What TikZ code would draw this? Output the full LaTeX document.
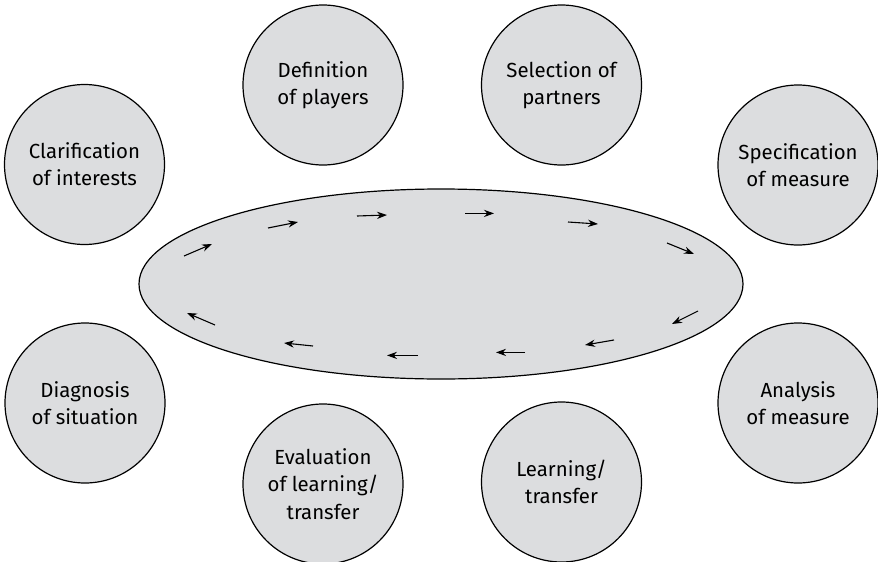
\documentclass[tikz,border=0pt]{standalone}
\usepackage{fontspec}
\setmainfont{Fira Sans}
\usetikzlibrary{arrows.meta,shapes.geometric}
\definecolor{phasegray}{RGB}{220,221,223}
\tikzset{
	phase/.style={circle, draw, fill=phasegray, line width=0.6pt, minimum size=80pt, inner sep=0pt, align=center, font=\fontsize{10.2}{13.6}\selectfont},
	flow/.style={-{Stealth[length=5pt,width=3.6pt]}, line width=0.55pt}
}
\begin{document}
\begin{tikzpicture}[x=0.5pt, y=-0.5pt]
	\useasboundingbox (0,0) rectangle (878,562);
	\node[ellipse, draw, fill=phasegray, line width=0.6pt, minimum width=302pt, minimum height=95pt, inner sep=0pt] (cycle) at (441,284) {};
	\node[phase] (clarify) at (84.5,164.5) {Clarification\\of interests};
	\node[phase] (players) at (323,85) {Definition\\of players};
	\node[phase] (partners) at (561.5,85) {Selection of\\partners};
	\node[phase] (specify) at (798,165) {Specification\\of measure};
	\node[phase] (analyse) at (798,403) {Analysis\\of measure};
	\node[phase] (learning) at (561.5,482) {Learning/\\transfer};
	\node[phase] (evaluate) at (323,484) {Evaluation\\of learning/\\transfer};
	\node[phase] (diagnose) at (85,403) {Diagnosis\\of situation};
	\draw[flow] (184,256) -- (212,244);
	\draw[flow] (268,228) -- (298,222);
	\draw[flow] (357,216) -- (387,215);
	\draw[flow] (465,213.4) -- (494,213.4);
	\draw[flow] (568,222) -- (598,224);
	\draw[flow] (667,243) -- (694,254);
	\draw[flow] (698,311) -- (672,324);
	\draw[flow] (614,340) -- (585,345);
	\draw[flow] (525,352.4) -- (496,352.4);
	\draw[flow] (418,355.4) -- (387,355.4);
	\draw[flow] (313,346) -- (284,343);
	\draw[flow] (215,325) -- (187,313);
\end{tikzpicture}
\end{document}
